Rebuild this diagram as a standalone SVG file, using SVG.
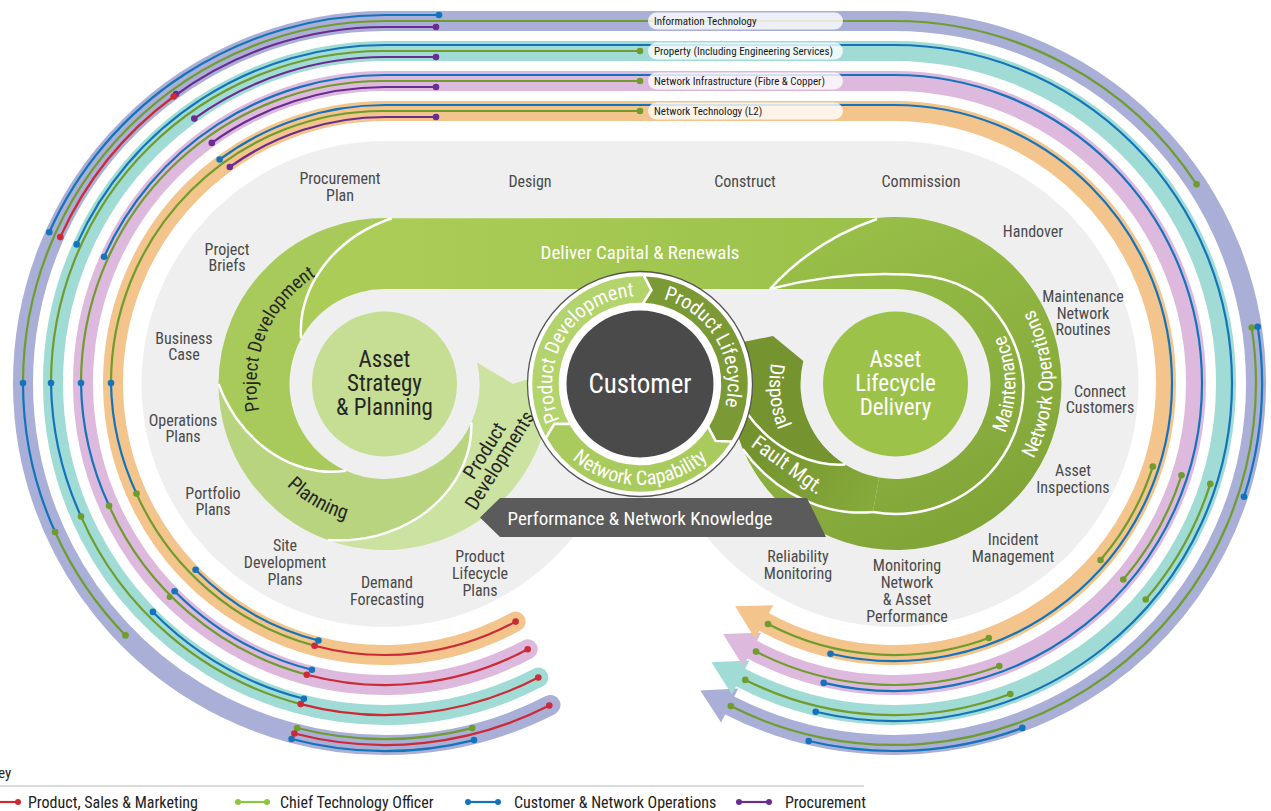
<svg xmlns="http://www.w3.org/2000/svg" width="1271" height="811" viewBox="0 0 1271 811">
<defs>
<style>
.band{fill:none;stroke-width:20;stroke-linecap:round}
.it{stroke:#a9afd6}.itf{fill:#a9afd6}
.pr{stroke:#a0dcd5}.prf{fill:#a0dcd5}
.ni{stroke:#ddb9dd}.nif{fill:#ddb9dd}
.nt{stroke:#f3c48b}.ntf{fill:#f3c48b}
.ln{fill:none;stroke-width:2.2}
.r{stroke:#cc2a36}.g{stroke:#6f9c2c}.b{stroke:#1474bb}.p{stroke:#6b2c8f}.lg{stroke:#8dc63f}
.dr{fill:#cc2a36}.dg{fill:#6f9c2c}.db{fill:#1474bb}.dp{fill:#6b2c8f}.dlg{fill:#8dc63f}
text{font-family:"Liberation Sans Narrow","Roboto Condensed","DejaVu Sans Condensed","Liberation Sans",Arial,sans-serif}
.lbl{font-size:16px;fill:#4a4a4a;text-anchor:middle}
.pill{fill:#fff;fill-opacity:.8}
.pt{font-size:11px;fill:#1a1a1a}
.wt{fill:#fff}
.dk{fill:#262626}
.sep{fill:none;stroke:#fff;stroke-width:2.5}
.seg{stroke:#fff;stroke-width:2.5}
.key{font-size:16px;fill:#222}
</style>
<linearGradient id="gBar" gradientUnits="userSpaceOnUse" x1="390" y1="0" x2="880" y2="0"><stop offset="0" stop-color="#abcd58"/><stop offset="1" stop-color="#9ac149"/></linearGradient>
<linearGradient id="gRing" gradientUnits="userSpaceOnUse" x1="800" y1="220" x2="960" y2="550"><stop offset="0" stop-color="#9ac149"/><stop offset="1" stop-color="#80a337"/></linearGradient>
<linearGradient id="gFault" gradientUnits="userSpaceOnUse" x1="876" y1="495" x2="760" y2="430"><stop offset="0" stop-color="#86aa3b"/><stop offset="1" stop-color="#74922d"/></linearGradient>
<path id="tpProj" d="M 273.6,448 A 128 128 0 0 1 362.3,257.9"/>
<path id="tpPlan" d="M 252,432.2 A 141 141 0 0 0 409,522.9"/>
<path id="tpCPD" d="M 563.8,428 A 88 88 0 0 1 643.1,296.1"/>
<path id="tpCPL" d="M 636.9,296.1 A 88 88 0 0 1 714.6,430.6"/>
<path id="tpCNC" d="M 550.8,431.4 A 101 101 0 0 0 729.2,431.4"/>
<path id="tpMaint" d="M 972.6,475.9 A 120 120 0 0 0 972.6,292.1"/>
<path id="tpNetOps" d="M 996.4,504.3 A 157 157 0 0 0 996.4,263.7"/>
<path id="tpDisp" d="M 792.3,311.7 A 126 126 0 0 0 809.6,476.2"/>
</defs>

<rect width="1271" height="811" fill="#fff"/>

<g id="background">
<circle cx="384.5" cy="384" r="243" fill="#efefef"/>
<circle cx="895.5" cy="384" r="243" fill="#efefef"/>
<rect x="384.5" y="141" width="511" height="396" fill="#efefef"/>
</g>

<g id="bands">
<path class="band it" d="M 550.5,705 A 362 362 0 0 1 23,383 A 362 362 0 0 1 385,21 L 894,21 A 362 362 0 0 1 1256,383 A 362 362 0 0 1 729.7,705.5"/>
<polygon class="itf" points="721.1,722.4 738.3,688.6 700.3,690.5"/>
<path class="band pr" d="M 538.3,677.5 A 332 332 0 0 1 53,383 A 332 332 0 0 1 385,51 L 894,51 A 332 332 0 0 1 1226,383 A 332 332 0 0 1 740.7,677.5"/>
<polygon class="prf" points="731.9,694.4 749.5,660.6 711.4,662.3"/>
<path class="band ni" d="M 527.7,649.2 A 302 302 0 0 1 83,383 A 302 302 0 0 1 385,81 L 894,81 A 302 302 0 0 1 1196,383 A 302 302 0 0 1 752.2,649.6"/>
<polygon class="nif" points="743.3,666.4 761.1,632.8 723.1,634.1"/>
<path class="band nt" d="M 515.6,621.6 A 272 272 0 0 1 113,383 A 272 272 0 0 1 385,111 L 894,111 A 272 272 0 0 1 1166,383 A 272 272 0 0 1 764.2,622"/>
<polygon class="ntf" points="755.1,638.7 773.3,605.3 735.2,606.3"/>
</g>

<g id="connectors">
<path class="ln b" d="M 49.3,232.2 A 368 368 0 0 1 385,15 L 439,15"/>
<path class="ln p" d="M 173.7,96.5 A 356 356 0 0 1 385,27 L 436,27"/>
<path class="ln r" d="M 60.3,237.1 A 356 356 0 0 1 173.7,96.5"/>
<path class="ln g" d="M 23,383 A 362 362 0 0 1 385,21 L 894,21 A 362 362 0 0 1 1196.6,184.3"/>
<path class="ln b" d="M 23,383 A 362 362 0 0 0 55.1,532"/>
<path class="ln g" d="M 55.1,532 A 362 362 0 0 0 125.5,635.4"/>
<path class="ln g" d="M 297.1,728 A 356 356 0 0 0 472.3,728.1"/>
<path class="ln r" d="M 294.4,733.5 A 362 362 0 0 0 549.3,705.5"/>
<path class="ln b" d="M 291.6,739 A 368 368 0 0 0 474,740.1"/>
<path class="ln b" d="M 1257.7,326.7 A 368 368 0 0 1 1244,496.7"/>
<path class="ln g" d="M 1251.7,327.6 A 362 362 0 0 1 730.8,706.1"/>
<path class="ln b" d="M 1022.3,727.9 A 368 368 0 0 1 808.7,741"/>
<path class="ln b" d="M 76.7,244.4 A 338 338 0 0 1 385,45 L 894,45 A 338 338 0 0 1 1232,383 A 338 338 0 0 1 815.7,711.8"/>
<path class="ln g" d="M 51,383 A 332 332 0 0 1 385,51 L 640,51"/>
<path class="ln p" d="M 194.3,118.6 A 326 326 0 0 1 385,57 L 436,57"/>
<path class="ln b" d="M 51,383 A 332 332 0 0 0 81,516.4"/>
<path class="ln g" d="M 81,516.4 A 332 332 0 0 0 300.7,704.1"/>
<path class="ln b" d="M 152.9,611.9 A 326 326 0 0 0 303.9,698.8"/>
<path class="ln r" d="M 300.7,704.1 A 332 332 0 0 0 538.3,677.5"/>
<path class="ln g" d="M 1210.3,483.9 A 332 332 0 0 1 1145.7,599.5"/>
<path class="ln g" d="M 1010.3,694 A 332 332 0 0 1 745.3,679.9"/>
<path class="ln b" d="M 104.1,256.7 A 308 308 0 0 1 385,75 L 894,75 A 308 308 0 0 1 1202,383 A 308 308 0 0 1 823.7,682.9"/>
<path class="ln g" d="M 81,383 A 302 302 0 0 1 385,81 L 640,81"/>
<path class="ln p" d="M 211.8,142.9 A 296 296 0 0 1 385,87 L 436,87"/>
<path class="ln b" d="M 81,383 A 302 302 0 0 0 109.1,505.8"/>
<path class="ln g" d="M 109.1,505.8 A 302 302 0 0 0 306.8,674.7"/>
<path class="ln b" d="M 174.6,591.2 A 296 296 0 0 0 311.9,669.8"/>
<path class="ln r" d="M 306.8,674.7 A 302 302 0 0 0 527.7,649.2"/>
<path class="ln g" d="M 1181.5,475.3 A 302 302 0 0 1 1123.3,579.5"/>
<path class="ln g" d="M 999.3,666 A 302 302 0 0 1 756,651.6"/>
<path class="ln b" d="M 219.6,159.5 A 278 278 0 0 1 385,105 L 894,105 A 278 278 0 0 1 1172,383 A 278 278 0 0 1 830.5,653.7"/>
<path class="ln g" d="M 111,383 A 272 272 0 0 1 385,111 L 640,111"/>
<path class="ln p" d="M 229.8,167 A 266 266 0 0 1 385,117 L 436,117"/>
<path class="ln b" d="M 111,383 A 272 272 0 0 0 136.5,493.6"/>
<path class="ln g" d="M 136.5,493.6 A 272 272 0 0 0 314.6,645.7"/>
<path class="ln b" d="M 195.6,569.8 A 266 266 0 0 0 318.4,640.5"/>
<path class="ln r" d="M 314.6,645.7 A 272 272 0 0 0 515.6,621.6"/>
<path class="ln g" d="M 1152.8,466.6 A 272 272 0 0 1 1100.5,560"/>
<path class="ln g" d="M 988.8,638 A 272 272 0 0 1 768,624"/>
<g class="dg">
<circle cx="1196.6" cy="184.3" r="3.3"/><circle cx="55.1" cy="532" r="3.3"/><circle cx="125.5" cy="635.4" r="3.3"/>
<circle cx="297.1" cy="728" r="3.3"/><circle cx="472.3" cy="728.1" r="3.3"/><circle cx="1251.7" cy="327.6" r="3.3"/><circle cx="730.8" cy="706.1" r="3.3"/>
<circle cx="640" cy="51" r="3.3"/><circle cx="1210.3" cy="483.9" r="3.3"/><circle cx="1145.7" cy="599.5" r="3.3"/><circle cx="1010.3" cy="694" r="3.3"/><circle cx="745.3" cy="679.9" r="3.3"/>
<circle cx="640" cy="81" r="3.3"/><circle cx="1181.5" cy="475.3" r="3.3"/><circle cx="1123.3" cy="579.5" r="3.3"/><circle cx="999.3" cy="666" r="3.3"/><circle cx="756" cy="651.6" r="3.3"/><circle cx="169.6" cy="597" r="3"/>
<circle cx="640" cy="111" r="3.3"/><circle cx="1152.8" cy="466.6" r="3.3"/><circle cx="1100.5" cy="560" r="3.3"/><circle cx="988.8" cy="638" r="3.3"/><circle cx="768" cy="624" r="3.3"/>
<circle cx="81" cy="516.4" r="3.3"/><circle cx="109.1" cy="505.8" r="3.3"/><circle cx="136.5" cy="493.6" r="3.3"/>
</g>
<g class="db">
<circle cx="49.3" cy="232.2" r="3.3"/><circle cx="439" cy="15" r="3.3"/><circle cx="23" cy="383" r="3.3"/>
<circle cx="291.6" cy="739" r="3.3"/><circle cx="474" cy="740.1" r="3.3"/><circle cx="1257.7" cy="326.7" r="3.3"/><circle cx="1244" cy="496.7" r="3.3"/><circle cx="1022.3" cy="727.9" r="3.3"/><circle cx="808.7" cy="741" r="3.3"/>
<circle cx="76.7" cy="244.4" r="3.3"/><circle cx="815.7" cy="711.8" r="3.3"/><circle cx="51" cy="383" r="3.3"/><circle cx="152.9" cy="611.9" r="3.3"/><circle cx="303.9" cy="698.8" r="3.3"/>
<circle cx="104.1" cy="256.7" r="3.3"/><circle cx="823.7" cy="682.9" r="3.3"/><circle cx="81" cy="383" r="3.3"/><circle cx="174.6" cy="591.2" r="3.3"/><circle cx="311.9" cy="669.8" r="3.3"/>
<circle cx="219.6" cy="159.5" r="3.3"/><circle cx="830.5" cy="653.7" r="3.3"/><circle cx="111" cy="383" r="3.3"/><circle cx="195.6" cy="569.8" r="3.3"/><circle cx="318.4" cy="640.5" r="3.3"/>
</g>
<g class="dp">
<circle cx="436" cy="27" r="3.3"/><circle cx="176" cy="94" r="3.3"/>
<circle cx="194.3" cy="118.6" r="3.3"/><circle cx="436" cy="57" r="3.3"/>
<circle cx="211.8" cy="142.9" r="3.3"/><circle cx="436" cy="87" r="3.3"/>
<circle cx="229.8" cy="167" r="3.3"/><circle cx="436" cy="117" r="3.3"/>
</g>
<g class="dr">
<circle cx="60.3" cy="237.1" r="3.3"/><circle cx="173.7" cy="96.5" r="3.3"/><circle cx="294.4" cy="733.5" r="3.3"/><circle cx="549.3" cy="705.5" r="3.3"/>
<circle cx="300.7" cy="704.1" r="3.3"/><circle cx="538.3" cy="677.5" r="3.3"/>
<circle cx="306.8" cy="674.7" r="3.3"/><circle cx="527.7" cy="649.2" r="3.3"/>
<circle cx="314.6" cy="645.7" r="3.3"/><circle cx="515.6" cy="621.6" r="3.3"/>
</g>
</g>

<g id="band-labels">
<rect class="pill" x="648" y="12.5" width="195" height="17" rx="8.5"/>
<text class="pt" x="654" y="25">Information Technology</text>
<rect class="pill" x="648" y="42.5" width="195" height="17" rx="8.5"/>
<text class="pt" x="654" y="55">Property (Including Engineering Services)</text>
<rect class="pill" x="648" y="72.5" width="195" height="17" rx="8.5"/>
<text class="pt" x="654" y="85">Network Infrastructure (Fibre &amp; Copper)</text>
<rect class="pill" x="648" y="102.5" width="195" height="17" rx="8.5"/>
<text class="pt" x="654" y="115">Network Technology (L2)</text>
</g>

<g id="deliver-capital">
<path fill="url(#gBar)" d="M 301.1,338.5 A 102 102 0 0 1 302.6,311.8 A 116 116 0 0 1 312.3,283.9 A 130 130 0 0 1 330.7,257.3 A 145 145 0 0 1 357.4,234.6 A 159 159 0 0 1 391.7,218.2 L 877,218 Q 815,240 770,289 L 384.5,289 A 95 95 0 0 0 301.1,338.5 Z"/>
<text class="wt" x="640" y="259" font-size="19" text-anchor="middle">Deliver Capital &amp; Renewals</text>
</g>

<g id="project-development">
<path fill="#a8ca5a" d="M 391.7,218.2 A 166 166 0 0 0 218.5,384 A 159 159 0 0 0 236.7,418.7 A 145 145 0 0 0 261.3,445.2 A 130 130 0 0 0 289.4,462.7 A 116 116 0 0 0 318.5,471 A 102 102 0 0 0 345.9,470.8 A 95 95 0 0 1 301.1,338.5 A 102 102 0 0 1 302.6,311.8 A 116 116 0 0 1 312.3,283.9 A 130 130 0 0 1 330.7,257.3 A 145 145 0 0 1 357.4,234.6 A 159 159 0 0 1 391.7,218.2 Z"/>
<text class="dk" font-size="19" text-anchor="middle"><textPath href="#tpProj" startOffset="48%">Project Development</textPath></text>
</g>

<g id="planning">
<path fill="#b8d47e" d="M 218.5,384 A 166 166 0 0 0 327.7,540 A 159 159 0 0 0 377.1,535.6 A 145 145 0 0 0 418.7,517.3 A 130 130 0 0 0 449.2,489.1 A 116 116 0 0 0 466.7,455.9 A 102 102 0 0 0 471.3,422.6 A 95 95 0 0 1 345.9,470.8 A 102 102 0 0 1 318.5,471 A 116 116 0 0 1 289.4,462.7 A 130 130 0 0 1 261.3,445.2 A 145 145 0 0 1 236.7,418.7 A 159 159 0 0 1 218.5,384 Z"/>
<text class="dk" font-size="20" text-anchor="middle"><textPath href="#tpPlan" startOffset="50%">Planning</textPath></text>
</g>

<g id="product-developments">
<path fill="#cbe2a1" d="M 327.7,540 A 166 166 0 0 0 548,412.8 L 540,380 L 525,380 L 513,384 L 477.1,362.6 A 95 95 0 0 1 471.3,422.6 A 102 102 0 0 1 466.7,455.9 A 116 116 0 0 1 449.2,489.1 A 130 130 0 0 1 418.7,517.3 A 145 145 0 0 1 377.1,535.6 A 159 159 0 0 1 327.7,540 Z"/>
<g transform="translate(491.5,455) rotate(-58)" class="dk" font-size="20" text-anchor="middle">
<text x="0" y="-1.5">Product</text>
<text x="0" y="16.5">Developments</text>
</g>
</g>

<g id="left-separators">
<path class="sep" d="M 301.1,338.5 A 102 102 0 0 1 302.6,311.8 A 116 116 0 0 1 312.3,283.9 A 130 130 0 0 1 330.7,257.3 A 145 145 0 0 1 357.4,234.6 A 159 159 0 0 1 391.7,218.2"/>
<path class="sep" d="M 345.9,470.8 A 102 102 0 0 1 318.5,471 A 116 116 0 0 1 289.4,462.7 A 130 130 0 0 1 261.3,445.2 A 145 145 0 0 1 236.7,418.7 A 159 159 0 0 1 218.5,384"/>
<path class="sep" d="M 471.3,422.6 A 102 102 0 0 1 466.7,455.9 A 116 116 0 0 1 449.2,489.1 A 130 130 0 0 1 418.7,517.3 A 145 145 0 0 1 377.1,535.6 A 159 159 0 0 1 327.7,540"/>
</g>

<g id="asset-strategy">
<circle cx="384.5" cy="384" r="72.5" fill="#c6de93"/>
<g class="dk" font-size="23" text-anchor="middle">
<text x="384.5" y="367">Asset</text>
<text x="384.5" y="391">Strategy</text>
<text x="384.5" y="415">&amp; Planning</text>
</g>
</g>

<g id="network-operations">
<path fill="url(#gRing)" d="M 770,289 Q 815,240 877,218 A 166 166 0 0 1 1061.5,384 A 166 166 0 0 1 742.7,448.9 A 162 162 0 0 0 764.5,473.7 A 155 155 0 0 0 789.8,492.7 A 148 148 0 0 0 817.3,505.4 A 141 141 0 0 0 845.4,511.7 A 134 134 0 0 0 872.9,512 L 879,477.6 A 95 95 0 0 0 990.5,384 A 95 95 0 0 0 895.5,289 Z"/>
<path class="sep" d="M 770,289 Q 815,240 877,219"/>
<path class="sep" d="M 770,289 Q 850,268 930.4,276.5 A 120 120 0 0 1 981.8,297.7 A 126 126 0 0 1 1023.5,384 A 129 129 0 0 1 987.4,475.9 A 130 130 0 0 1 872.9,512"/>
<text class="wt" font-size="20" text-anchor="middle"><textPath href="#tpMaint" startOffset="50%">Maintenance</textPath></text>
<text class="wt" font-size="20" text-anchor="middle"><textPath href="#tpNetOps" startOffset="50%">Network Operations</textPath></text>
</g>

<g id="fault-mgt">
<path fill="url(#gFault)" d="M 872.9,512 A 134 134 0 0 1 845.4,511.7 A 141 141 0 0 1 817.3,505.4 A 148 148 0 0 1 789.8,492.7 A 155 155 0 0 1 764.5,473.7 A 162 162 0 0 1 742.7,448.9 A 166 166 0 0 1 729.5,381.1 A 159 159 0 0 0 746.4,412.4 A 145 145 0 0 0 768.5,436.9 A 130 130 0 0 0 793.7,453.7 A 116 116 0 0 0 819.9,462.8 A 102 102 0 0 0 845.2,464.6 A 95 95 0 0 0 879,477.6 Z"/>
<text class="wt" font-size="21" text-anchor="middle" transform="translate(788,465) rotate(36)" y="7">Fault Mgt.</text>
</g>

<g id="disposal">
<path fill="#75932e" d="M 845.2,464.6 A 102 102 0 0 1 819.9,462.8 A 116 116 0 0 1 793.7,453.7 A 130 130 0 0 1 768.5,436.9 A 145 145 0 0 1 746.4,412.4 A 159 159 0 0 1 729.5,381.1 A 166 166 0 0 1 734.4,343.8 L 773,336 L 803.3,361 A 95 95 0 0 0 845.2,464.6 Z"/>
<text class="wt" font-size="20" text-anchor="middle"><textPath href="#tpDisp" startOffset="50%">Disposal</textPath></text>
</g>

<g id="right-separators">
<path class="sep" d="M 872.9,512 A 134 134 0 0 1 845.4,511.7 A 141 141 0 0 1 817.3,505.4 A 148 148 0 0 1 789.8,492.7 A 155 155 0 0 1 764.5,473.7 A 162 162 0 0 1 742.7,448.9"/>
<path class="sep" d="M 845.2,464.6 A 102 102 0 0 1 819.9,462.8 A 116 116 0 0 1 793.7,453.7 A 130 130 0 0 1 768.5,436.9 A 145 145 0 0 1 746.4,412.4 A 159 159 0 0 1 729.5,381.1"/>
</g>

<g id="asset-lifecycle">
<circle cx="895.5" cy="384" r="72.5" fill="#9dc249"/>
<g class="wt" font-size="23" text-anchor="middle">
<text x="895.5" y="367">Asset</text>
<text x="895.5" y="391">Lifecycle</text>
<text x="895.5" y="415">Delivery</text>
</g>
</g>

<g id="performance-knowledge">
<polygon points="480,517.5 500,498 807,498 826,537 500,537" fill="#5b5b5b"/>
<text class="wt" x="640" y="525" font-size="19" text-anchor="middle">Performance &amp; Network Knowledge</text>
</g>

<g id="customer">
<circle cx="640" cy="384" r="112.5" fill="#fff" stroke="#555" stroke-width="1.3"/>
<path class="seg" fill="#b3d36c" d="M 570.7,424 L 554.4,423.9 L 545.6,438.5 A 109 109 0 0 1 643.8,275.1 L 651.5,290.2 L 642.8,304 A 80 80 0 0 0 570.7,424 Z"/>
<path class="seg" fill="#7b9934" d="M 642.8,304 L 651.5,290.2 L 643.8,275.1 A 109 109 0 0 1 732.4,441.8 L 715.5,440.9 L 707.8,426.4 A 80 80 0 0 0 642.8,304 Z"/>
<path class="seg" fill="#a9cb5d" d="M 707.8,426.4 L 715.5,440.9 L 732.4,441.8 A 109 109 0 0 1 545.6,438.5 L 554.4,423.9 L 570.7,424 A 80 80 0 0 0 707.8,426.4 Z"/>
<circle cx="640" cy="384" r="73.5" fill="#4a4a4a"/>
<text class="wt" x="640" y="393" font-size="27" text-anchor="middle">Customer</text>
<text class="wt" font-size="20" text-anchor="middle"><textPath href="#tpCPD" startOffset="50%">Product Development</textPath></text>
<text class="wt" font-size="20" text-anchor="middle"><textPath href="#tpCPL" startOffset="50%">Product Lifecycle</textPath></text>
<text class="wt" font-size="20" text-anchor="middle"><textPath href="#tpCNC" startOffset="50%">Network Capability</textPath></text>
</g>

<g id="stage-labels" class="lbl">
<text x="340" y="184">Procurement</text><text x="340" y="201">Plan</text>
<text x="530" y="187">Design</text>
<text x="745" y="187">Construct</text>
<text x="921" y="187">Commission</text>
<text x="1033" y="237">Handover</text>
<text x="1083" y="302">Maintenance</text><text x="1083" y="319">Network</text><text x="1083" y="335">Routines</text>
<text x="1100" y="397">Connect</text><text x="1100" y="413">Customers</text>
<text x="1073" y="476">Asset</text><text x="1073" y="493">Inspections</text>
<text x="1013" y="545">Incident</text><text x="1013" y="562">Management</text>
<text x="907" y="571">Monitoring</text><text x="907" y="588">Network</text><text x="907" y="605">&amp; Asset</text><text x="907" y="622">Performance</text>
<text x="798" y="562">Reliability</text><text x="798" y="579">Monitoring</text>
<text x="480" y="562">Product</text><text x="480" y="579">Lifecycle</text><text x="480" y="596">Plans</text>
<text x="387" y="588">Demand</text><text x="387" y="605">Forecasting</text>
<text x="285" y="551">Site</text><text x="285" y="568">Development</text><text x="285" y="585">Plans</text>
<text x="213" y="499">Portfolio</text><text x="213" y="515">Plans</text>
<text x="183" y="426">Operations</text><text x="183" y="442">Plans</text>
<text x="184" y="344">Business</text><text x="184" y="360">Case</text>
<text x="227" y="255">Project</text><text x="227" y="271">Briefs</text>
</g>

<g id="legend">
<text x="-10" y="778" font-size="15" fill="#222">Key</text>
<line x1="0" y1="786" x2="864" y2="786" stroke="#cfcfcf" stroke-width="1.5"/>
<line class="ln r" x1="-4" y1="802" x2="18" y2="802"/><circle class="dr" cx="18" cy="802" r="3"/>
<text class="key" x="28" y="808">Product, Sales &amp; Marketing</text>
<line class="ln lg" x1="238" y1="802" x2="267" y2="802"/><circle class="dlg" cx="238" cy="802" r="3"/><circle class="dlg" cx="267" cy="802" r="3"/>
<text class="key" x="280" y="808">Chief Technology Officer</text>
<line class="ln b" x1="468" y1="802" x2="498" y2="802"/><circle class="db" cx="468" cy="802" r="3"/><circle class="db" cx="498" cy="802" r="3"/>
<text class="key" x="514" y="808">Customer &amp; Network Operations</text>
<line class="ln p" x1="739" y1="802" x2="769" y2="802"/><circle class="dp" cx="739" cy="802" r="3"/><circle class="dp" cx="769" cy="802" r="3"/>
<text class="key" x="785" y="808">Procurement</text>
</g>
</svg>
